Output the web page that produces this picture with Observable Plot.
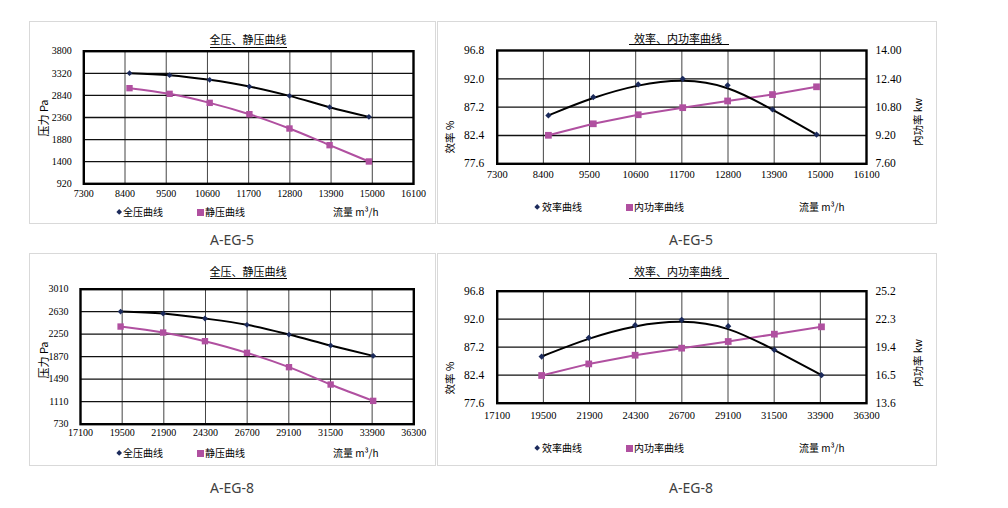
<!DOCTYPE html>
<html><head><meta charset="utf-8">
<script src="https://cdn.jsdelivr.net/npm/d3@7"></script>
<script src="https://cdn.jsdelivr.net/npm/@observablehq/plot@0.6"></script>
<style>
body{margin:0;background:#fff;}
#root{position:relative;width:1008px;height:508px;overflow:hidden;background:#fff;font-family:"Noto Sans CJK SC","Noto Sans",sans-serif;}
.box{position:absolute;border:1px solid #d9d9d9;box-sizing:border-box;}
.plot{position:absolute;}
.plot text{font-family:"Liberation Serif","DejaVu Serif",serif !important;}
.t{position:absolute;white-space:nowrap;color:#000;line-height:1;}
.ul{position:absolute;height:0;border-top:1px solid #000;}
</style>
</head><body><div id="root"></div>
<script>
// ---- data: fan A-EG-5 ----
const flow5   = [8520, 9590, 10660, 11720, 12790, 13860, 14910];
const total5  = [3322, 3279, 3178, 3033, 2830, 2584, 2374];
const static5 = [2997, 2874, 2678, 2432, 2121, 1759, 1405];
const eff5    = [85.8, 88.9, 91.05, 92.0, 90.9, 86.8, 82.55];
const power5  = [9.21, 9.86, 10.37, 10.77, 11.15, 11.51, 11.95];
const xTicks5 = [7300, 8400, 9500, 10600, 11700, 12800, 13900, 15000, 16100];
const pTicks5 = [920, 1400, 1880, 2360, 2840, 3320, 3800];
const powTicks5 = [7.6, 9.2, 10.8, 12.4, 14.0];
// ---- data: fan A-EG-8 ----
const flow8   = [19410, 21860, 24270, 26690, 29110, 31510, 33960];
const total8  = [2633, 2599, 2515, 2408, 2244, 2059, 1884];
const static8 = [2379, 2278, 2132, 1935, 1693, 1400, 1124];
const eff8    = [85.6, 88.8, 90.97, 91.89, 90.8, 86.74, 82.4];
const power8  = [16.47, 17.67, 18.57, 19.30, 19.99, 20.75, 21.51];
const xTicks8 = [17100, 19500, 21900, 24300, 26700, 29100, 31500, 33900, 36300];
const pTicks8 = [730, 1110, 1490, 1870, 2250, 2630, 3010];
const powTicks8 = [13.6, 16.5, 19.4, 22.3, 25.2];
// shared
const effTicks = [77.6, 82.4, 87.2, 92.0, 96.8];
const titleP = "全压、静压曲线", titleE = "效率、内功率曲线";
const legTotal = "全压曲线", legStatic = "静压曲线", legEff = "效率曲线", legPow = "内功率曲线";
const flowLabel = "流量 m³/h", pLabel = "压力 Pa", effLabel = "效率 %", powLabel = "内功率 kw";
const names = ["A-EG-5", "A-EG-8"];

const BLACK = "#000", MAG = "#b050a0", NAVY = "#1c2b5c";
const SERIF = "'Liberation Serif', serif";
const root = document.getElementById("root");

function txt(x, y, s, o = {}) {
  const d = document.createElement("div");
  d.className = "t";
  d.textContent = s;
  d.style.left = x + "px"; d.style.top = y + "px";
  d.style.fontSize = (o.size || 10) + "px";
  if (o.font) d.style.fontFamily = o.font;
  if (o.color) d.style.color = o.color;
  const ax = o.anchor === "start" ? "0" : "-50%";
  d.style.transform = `translate(${ax},-50%)` + (o.rot ? ` rotate(${o.rot}deg)` : "");
  root.appendChild(d);
}
function box(x, y, w, h) {
  const d = document.createElement("div");
  d.className = "box";
  Object.assign(d.style, {left: x + "px", top: y + "px", width: w + "px", height: h + "px"});
  root.appendChild(d);
}
function ul(x1, x2, y) {
  const d = document.createElement("div");
  d.className = "ul";
  Object.assign(d.style, {left: x1 + "px", top: y + "px", width: (x2 - x1) + "px"});
  root.appendChild(d);
}
function place(svg, x, y) {
  svg.classList.add("plot");
  svg.style.left = x + "px"; svg.style.top = y + "px";
  root.appendChild(svg);
}
function legendMark(x, y, kind) {
  const d = document.createElement("div");
  d.style.position = "absolute";
  if (kind === "d") {
    Object.assign(d.style, {left: (x - 2.2) + "px", top: (y - 2.2) + "px", width: "4.4px", height: "4.4px", background: NAVY, transform: "rotate(45deg)"});
  } else {
    Object.assign(d.style, {left: (x - 3.5) + "px", top: (y - 3.5) + "px", width: "7px", height: "7px", background: MAG});
  }
  root.appendChild(d);
}

function pressureChart(flow, total, stat, xTicks, yTicks, g) {
  const n = {length: flow.length};
  return Plot.plot({
    width: g.w, height: g.h, marginLeft: g.ml, marginRight: g.mr, marginTop: g.mt, marginBottom: g.mb,
    style: {fontFamily: SERIF, fontSize: "10px", background: "transparent", overflow: "visible", color: "#000"},
    x: {domain: [xTicks[0], xTicks[xTicks.length - 1]]},
    y: {domain: [yTicks[0], yTicks[yTicks.length - 1]]},
    marks: [
      Plot.ruleX(xTicks.slice(1, -1), {stroke: "#444", strokeWidth: 1}),
      Plot.ruleY(yTicks.slice(1, -1), {stroke: "#111", strokeWidth: 1.3}),
      Plot.frame({stroke: "#000", strokeWidth: 2.4}),
      Plot.axisX({ticks: xTicks, tickSize: 0, tickPadding: g.xpad, tickFormat: d => String(d), label: null, fontFamily: SERIF, fontSize: 10}),
      Plot.axisY({ticks: yTicks, tickSize: 0, tickPadding: 12, tickFormat: d => String(d), label: null, fontFamily: SERIF, fontSize: 10}),
      Plot.line(n, {x: flow, y: total, curve: "catmull-rom", stroke: BLACK, strokeWidth: 2}),
      Plot.line(n, {x: flow, y: stat, curve: "catmull-rom", stroke: MAG, strokeWidth: 2}),
      Plot.dot(n, {x: flow, y: total, symbol: "diamond2", r: 2.6, fill: NAVY, stroke: null}),
      Plot.dot(n, {x: flow, y: stat, symbol: "square", r: 3.6, fill: MAG, stroke: null})
    ]
  });
}

function effChart(flow, eff, power, xTicks, powTicks, digits, g) {
  const n = {length: flow.length};
  const pMap = d3.scaleLinear([powTicks[0], powTicks[powTicks.length - 1]], [effTicks[0], effTicks[effTicks.length - 1]]);
  const powY = power.map(v => pMap(v));
  const lab = new Map(powTicks.map(v => [pMap(v), v.toFixed(digits)]));
  return Plot.plot({
    width: g.w, height: g.h, marginLeft: g.ml, marginRight: g.mr, marginTop: g.mt, marginBottom: g.mb,
    style: {fontFamily: SERIF, fontSize: "11px", background: "transparent", overflow: "visible", color: "#000"},
    x: {domain: [xTicks[0], xTicks[xTicks.length - 1]]},
    y: {domain: [effTicks[0], effTicks[effTicks.length - 1]]},
    marks: [
      Plot.ruleX(xTicks.slice(1, -1), {stroke: "#444", strokeWidth: 1}),
      Plot.ruleY(effTicks.slice(1, -1), {stroke: "#111", strokeWidth: 1.3}),
      Plot.frame({stroke: "#000", strokeWidth: 2.4}),
      Plot.axisX({ticks: xTicks, tickSize: 0, tickPadding: g.xpad, tickFormat: d => String(d), label: null, fontFamily: SERIF, fontSize: 10.5}),
      Plot.axisY({anchor: "left", ticks: effTicks, tickSize: 0, tickPadding: 13, tickFormat: d => d.toFixed(1), label: null, fontFamily: SERIF, fontSize: 11.5}),
      Plot.axisY({anchor: "right", ticks: [...lab.keys()], tickSize: 0, tickPadding: 9, tickFormat: d => lab.get(d), label: null, fontFamily: SERIF, fontSize: 11.5}),
      Plot.line(n, {x: flow, y: powY, stroke: MAG, strokeWidth: 2}),
      Plot.line(n, {x: flow, y: eff, curve: "basis", stroke: BLACK, strokeWidth: 2}),
      Plot.dot(n, {x: flow, y: eff, symbol: "diamond2", r: 2.8, fill: NAVY, stroke: null}),
      Plot.dot(n, {x: flow, y: powY, symbol: "square", r: 3.8, fill: MAG, stroke: null})
    ]
  });
}

// ---------- panel 1 ----------
box(29, 21, 407, 203);
place(pressureChart(flow5, total5, static5, xTicks5, pTicks5,
  {w: 407, h: 203, ml: 54.3, mr: 23, mt: 29.7, mb: 40.7, xpad: 6}), 29, 21);
txt(248, 39, titleP, {size: 11}); ul(210, 287, 47);
txt(43, 118, pLabel, {size: 11, rot: -90});
legendMark(119, 212, "d"); txt(123, 212, legTotal, {size: 10, anchor: "start"});
legendMark(200, 212, "s"); txt(205, 212, legStatic, {size: 10, anchor: "start"});
txt(333, 212, flowLabel, {size: 10, anchor: "start"});
txt(232, 240, names[0], {size: 14, font: "'Noto Sans', sans-serif", color: "#404040"});

// ---------- panel 2 ----------
box(437, 21, 500, 203);
place(effChart(flow5, eff5, power5, xTicks5, powTicks5, 2,
  {w: 500, h: 203, ml: 59.7, mr: 71, mt: 29, mb: 40.7 + 20, xpad: 7}), 437, 21);
txt(678, 38, titleE, {size: 11}); ul(629, 729, 44);
txt(450, 137, effLabel, {size: 10.5, rot: -90});
txt(918, 122, powLabel, {size: 10.5, rot: -90});
legendMark(537, 207, "d"); txt(542, 207, legEff, {size: 10, anchor: "start"});
legendMark(629, 207, "s"); txt(634, 207, legPow, {size: 10, anchor: "start"});
txt(799, 207, flowLabel, {size: 10, anchor: "start"});
txt(691, 240, names[0], {size: 14, font: "'Noto Sans', sans-serif", color: "#404040"});

// ---------- panel 3 ----------
box(29, 253, 407, 213);
place(pressureChart(flow8, total8, static8, xTicks8, pTicks8,
  {w: 407, h: 213, ml: 51, mr: 22.7, mt: 35.7, mb: 42.3, xpad: 5}), 29, 253);
txt(248, 271, titleP, {size: 11}); ul(210, 287, 278);
txt(43, 360, pLabel, {size: 11, rot: -90});
legendMark(119, 453, "d"); txt(123, 453, legTotal, {size: 10, anchor: "start"});
legendMark(200, 453, "s"); txt(205, 453, legStatic, {size: 10, anchor: "start"});
txt(333, 453, flowLabel, {size: 10, anchor: "start"});
txt(232, 488, names[1], {size: 14, font: "'Noto Sans', sans-serif", color: "#404040"});

// ---------- panel 4 ----------
box(437, 253, 500, 213);
place(effChart(flow8, eff8, power8, xTicks8, powTicks8, 1,
  {w: 500, h: 213, ml: 59.7, mr: 71, mt: 37.7, mb: 63.3, xpad: 8}), 437, 253);
txt(678, 271, titleE, {size: 11}); ul(629, 729, 278);
txt(450, 378, effLabel, {size: 10.5, rot: -90});
txt(918, 363, powLabel, {size: 10.5, rot: -90});
legendMark(537, 448, "d"); txt(542, 448, legEff, {size: 10, anchor: "start"});
legendMark(629, 448, "s"); txt(634, 448, legPow, {size: 10, anchor: "start"});
txt(799, 448, flowLabel, {size: 10, anchor: "start"});
txt(691, 488, names[1], {size: 14, font: "'Noto Sans', sans-serif", color: "#404040"});
</script>
</body></html>
